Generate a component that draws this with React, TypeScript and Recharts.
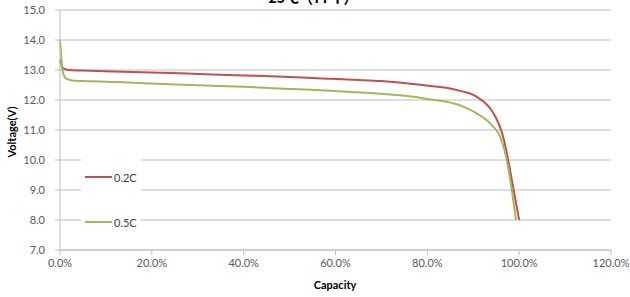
import React from 'react';
import { LineChart, Line, XAxis, YAxis, CartesianGrid } from 'recharts';

// 0.2C discharge curve (capacity %, voltage V)
const cap02 = [0, 0.5, 1.5, 5, 10, 20, 30, 40, 50, 57, 65, 70, 77, 80.6, 84.2, 87.8, 90, 91.5, 92.6, 93.6, 94.8, 95.8, 96.8, 97.6, 98.8, 100];
const volt02 = [13.35, 13.08, 13.01, 12.98, 12.96, 12.92, 12.87, 12.82, 12.77, 12.72, 12.67, 12.63, 12.53, 12.47, 12.41, 12.28, 12.17, 12.03, 11.9, 11.74, 11.45, 11.11, 10.6, 10.0, 9.0, 8.0];

// 0.5C discharge curve
const cap05 = [0, 0.3, 0.6, 1.3, 3, 8.7, 20, 30, 40, 50, 60, 70, 77, 80.6, 84.2, 87.8, 90.7, 92.9, 94.3, 95.5, 96.5, 97.3, 98.4, 99.3];
const volt05 = [14.0, 13.4, 12.94, 12.72, 12.64, 12.62, 12.55, 12.49, 12.44, 12.37, 12.3, 12.21, 12.11, 12.02, 11.94, 11.78, 11.56, 11.33, 11.12, 10.89, 10.5, 10.0, 9.0, 8.0];

const xTicks = [0, 20, 40, 60, 80, 100, 120];
const yTicks = [7, 8, 9, 10, 11, 12, 13, 14, 15];

const series = [
  { name: '0.2C', color: '#c0504d', data: cap02.map((x, i) => ({ x, v: volt02[i] })) },
  { name: '0.5C', color: '#9bbb59', data: cap05.map((x, i) => ({ x, v: volt05[i] })) },
];

const FONT = 'Lato, "Noto Sans", sans-serif';
const tickStyle = { fontSize: 11, fill: '#595959', fontFamily: FONT };

// legend sits inside the plot, white box over the gridlines
const LegendBox = () => (
  <div style={{ position: 'absolute', left: 81, top: 155, width: 60, height: 82, background: '#fff', fontFamily: FONT, fontSize: 11, color: '#404040' }}>
    {series.map((s, i) => (
      <div key={s.name} style={{ position: 'absolute', left: 4, top: 22 + i * 45 - 7, display: 'flex', alignItems: 'center', height: 14 }}>
        <span style={{ display: 'inline-block', width: 27, height: 2, background: s.color, marginRight: 2 }} />
        <span>{s.name}</span>
      </div>
    ))}
  </div>
);

export default function App() {
  return (
    <div style={{ position: 'absolute', left: 0, top: 0, width: 630, height: 297, background: '#fff', overflow: 'hidden' }}>
      <LineChart width={630} height={297} margin={{ top: 10, right: 19, bottom: 17, left: 0 }}>
        <CartesianGrid horizontal vertical={false} stroke="#bfbfbf" />
        <XAxis
          type="number"
          dataKey="x"
          domain={[0, 120]}
          ticks={xTicks}
          height={30}
          tickFormatter={(v: number) => `${v.toFixed(1)}%`}
          tick={tickStyle}
          tickSize={5}
          tickMargin={4}
          stroke="#bfbfbf"
          allowDuplicatedCategory={false}
        />
        <YAxis
          type="number"
          domain={[7, 15]}
          ticks={yTicks}
          width={60}
          tickFormatter={(v: number) => v.toFixed(1)}
          tick={tickStyle}
          tickSize={5}
          tickMargin={10}
          stroke="#bfbfbf"
        />
        {series.map((s) => (
          <Line
            key={s.name}
            data={s.data}
            dataKey="v"
            name={s.name}
            type="monotone"
            stroke={s.color}
            strokeWidth={2}
            dot={false}
            isAnimationActive={false}
          />
        ))}
        <text x={313} y={3} textAnchor="middle" fontSize={14} fontWeight={700} fontFamily='"Noto Sans CJK SC", sans-serif' fill="#000">
          25℃（77℉）
        </text>
        <text x={335} y={289} textAnchor="middle" fontSize={11} fontWeight={700} fontFamily={FONT} fill="#000">
          Capacity
        </text>
        <text x={16} y={132} textAnchor="middle" fontSize={11} fontWeight={700} fontFamily={FONT} fill="#000" transform="rotate(-90 16 132)">
          Voltage(V)
        </text>
      </LineChart>
      <LegendBox />
    </div>
  );
}
